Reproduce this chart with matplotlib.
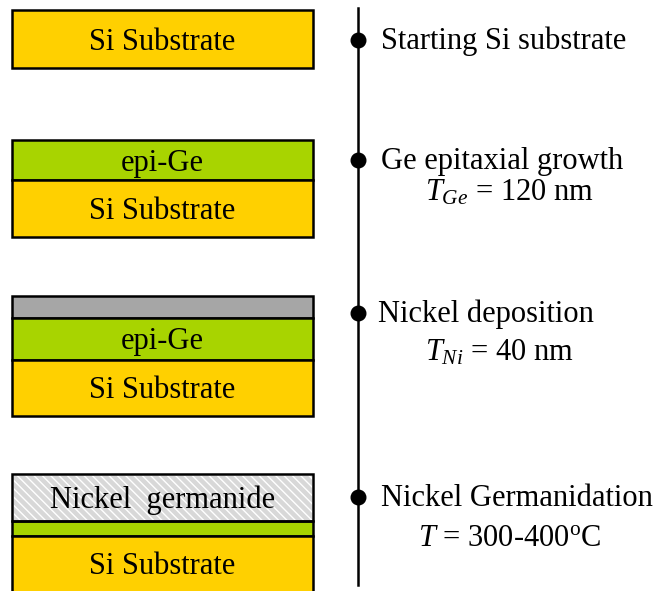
import matplotlib.pyplot as plt
from matplotlib.patches import Rectangle

plt.rcParams['font.family'] = ['Liberation Serif', 'DejaVu Serif']
plt.rcParams['mathtext.fontset'] = 'custom'
plt.rcParams['mathtext.it'] = 'Liberation Serif:italic'
plt.rcParams['mathtext.rm'] = 'Liberation Serif'

# layer stacks (name, top, bottom) in pixel coords of the drawing
stack_x = (12, 313)
layers = [
    ("Si Substrate", 10, 68, "si"),
    ("epi-Ge", 140, 180, "ge"),
    ("Si Substrate", 180, 237, "si"),
    ("", 296, 318, "ni"),
    ("epi-Ge", 318, 360, "ge"),
    ("Si Substrate", 360, 416, "si"),
    ("Nickel  germanide", 474, 521, "nige"),
    ("", 521, 536, "ge"),
    ("Si Substrate", 536, 600, "si"),
]
colors = {"si": "#FFD000", "ge": "#A8D400", "ni": "#A6A6A6", "nige": "#D8D8D8"}

steps = ["Starting Si substrate", "Ge epitaxial growth", "Nickel deposition", "Nickel Germanidation"]
step_y = [40, 160, 313, 497]
step_x = [381, 381, 378, 381]
params = [None, r"$T_{Ge}$ = 120 nm", r"$T_{Ni}$ = 40 nm", r"$T$ = 300-400$^{\rm o}$C"]
param_pos = [None, (425, 193), (425, 353), (418, 538)]

fig = plt.figure(figsize=(6.64, 5.91), dpi=100)
ax = fig.add_axes([0, 0, 1, 1])
ax.set_xlim(0, 664)
ax.set_ylim(591, 0)
ax.axis('off')

x0, x1 = stack_x
for name, top, bot, kind in layers:
    r = Rectangle((x0, top), x1 - x0, bot - top, facecolor=colors[kind],
                  edgecolor='black', linewidth=1.8, zorder=2)
    if kind == "nige":
        r.set_hatch('\\\\\\\\')
        r.set_edgecolor('white')
        ax.add_patch(r)
        ax.add_patch(Rectangle((x0, top), x1 - x0, bot - top, facecolor='none',
                               edgecolor='black', linewidth=1.8, zorder=3))
    else:
        ax.add_patch(r)
    if name:
        ax.text((x0 + x1) / 2, (top + min(bot, 591)) / 2 + 3, name, ha='center', va='center',
                fontsize=22, zorder=4)

ax.plot([358, 358], [8, 585], color='black', lw=1.8)
ax.scatter([358] * len(step_y), step_y, s=110, color='black', zorder=5)

for s, y, x in zip(steps, step_y, step_x):
    ax.text(x, y + 1, s, ha='left', va='center', fontsize=22, clip_on=False)
for p, pos in zip(params, param_pos):
    if p:
        ax.text(pos[0], pos[1], p, ha='left', va='center', fontsize=22)

fig.savefig('out.png', dpi=100)
